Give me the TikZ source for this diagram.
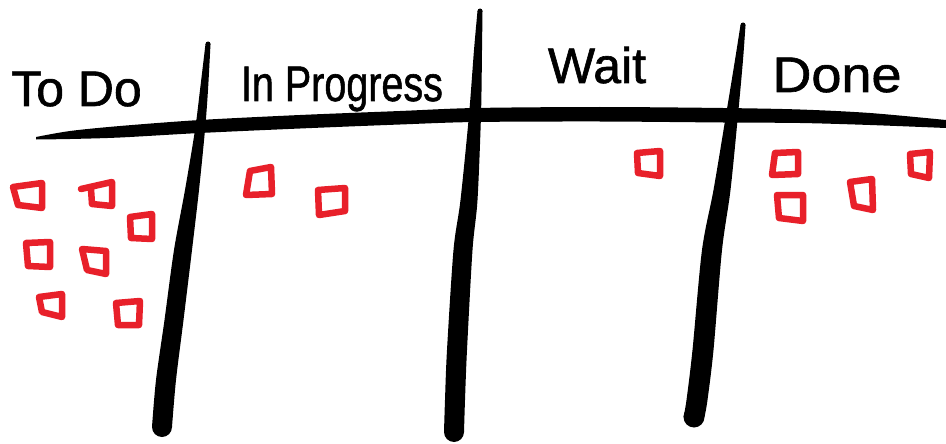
\documentclass[tikz,border=0pt]{standalone}
\usepackage{fontspec}
\setmainfont{Liberation Sans}
\newfontfamily\handfont[FakeBold=1.2]{Liberation Sans}
\definecolor{stickyred}{HTML}{E8202A}
\begin{document}
\begin{tikzpicture}[x=1pt,y=-1pt,
  note/.style={draw=stickyred,line width=6.5pt,line join=round,line cap=round},
  ink/.style={fill=black},
  lbl/.style={font=\handfont\fontsize{50}{50}\selectfont,anchor=base,inner sep=0pt}]
\useasboundingbox (0,0) rectangle (946,444);
% horizontal header line
\fill[ink] plot[smooth] coordinates {(36,137) (70,131) (120,126) (200,120) (300,115) (400,111) (475,108) (600,107) (723,108) (800,109.5) (870,113) (946,120)}
  -- plot[smooth] coordinates {(946,128) (870,125) (800,123) (723,122.5) (600,121.5) (475,122) (400,124.5) (300,128.5) (200,133) (120,137.5) (70,139) (36,139.5)} -- cycle;
% vertical line 1
\fill[ink] plot[smooth] coordinates {(205.5,44) (200,90) (195,130) (185,190) (174,250) (164.5,320) (156,380) (152,427)}
  -- plot[smooth] coordinates {(172,427) (176,380) (183.5,320) (192,250) (199,190) (205,130) (208,90) (210.5,44)} -- cycle;
\fill[ink] (162,427) circle[radius=10];
\fill[ink] (208,44) circle[radius=2.5];
% vertical line 2
\fill[ink] plot[smooth] coordinates {(477.5,11) (474,50) (469,115) (460.5,200) (453.5,250) (447,350) (445,400) (444,432)}
  -- plot[smooth] coordinates {(464,432) (465,400) (467,350) (472.5,250) (477.5,200) (481,115) (482,50) (482.5,11)} -- cycle;
\fill[ink] (454,432) circle[radius=10];
\fill[ink] (480,11) circle[radius=2.5];
% vertical line 3
\fill[ink] plot[smooth] coordinates {(740.5,25) (735,60) (726,115) (713.5,190) (702,250) (692.5,350) (686.5,400) (683.5,417)}
  -- plot[smooth] coordinates {(704.5,417) (707.5,400) (713.5,350) (722,250) (730.5,190) (738,115) (743,60) (745.5,25)} -- cycle;
\fill[ink] (694,417) circle[radius=10.5];
\fill[ink] (743,25) circle[radius=2.5];
% labels
\node[lbl] (todo) at (76.5,106) {To Do};
\node[lbl] (inprog) at (342,101) {\scalebox{0.79}[1]{In Progress}};
\node[lbl] (wait) at (597,83) {Wait};
\node[lbl] (done) at (837,92) {\scalebox{1.08}[1]{Done}};
% To Do notes
\draw[note] (13,187) -- (42,183) -- (42,208) -- (18,205) -- cycle;
\draw[note] (81,189) -- (112,182) -- (112,206) -- (92,204) -- (91,189);
\draw[note] (130,217) -- (152,214) -- (152,239) -- (131,238) -- cycle;
\draw[note] (26,243) -- (50,242) -- (50,267) -- (28,266) -- cycle;
\draw[note] (82,249) -- (106,251) -- (106,274) -- (87,270) -- cycle;
\draw[note] (39,297) -- (62,294) -- (62,317) -- (42,312) -- cycle;
\draw[note] (116,303) -- (140,301) -- (139,325) -- (118,325) -- cycle;
% In Progress notes
\draw[note] (250,171) -- (271,167) -- (272,194) -- (246,195) -- cycle;
\draw[note] (318,190) -- (345,188) -- (345,211) -- (319,215) -- cycle;
% Wait note
\draw[note] (637,153) -- (660,151) -- (660,176) -- (638,173) -- cycle;
% Done notes
\draw[note] (775,153) -- (798,152) -- (798,174) -- (772,175) -- cycle;
\draw[note] (777,195) -- (803,195) -- (803,221) -- (779,218) -- cycle;
\draw[note] (850,182) -- (872,179) -- (873,210) -- (854,206) -- cycle;
\draw[note] (910,154) -- (930,152) -- (929,178) -- (911,174) -- cycle;
\end{tikzpicture}
\end{document}
